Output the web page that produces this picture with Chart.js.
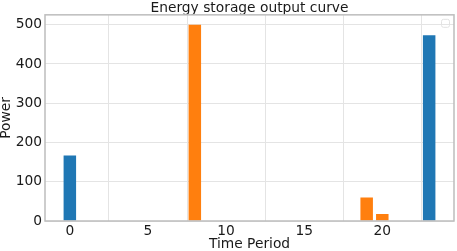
<!DOCTYPE html>
<html>
<head>
<meta charset="utf-8">
<script src="https://cdn.jsdelivr.net/npm/chart.js@4"></script>
<style>
  html, body { margin: 0; padding: 0; background: #fff; }
  #wrap { width: 457px; height: 251px; }
</style>
</head>
<body>
<div id="wrap"><canvas id="myChart" width="457" height="251"></canvas></div>
<script>
// time periods 0..23
const periods = [0,1,2,3,4,5,6,7,8,9,10,11,12,13,14,15,16,17,18,19,20,21,22,23];
// blue series
const blueValues = [167,0,0,0,0,0,0,0,0,0,0,0,0,0,0,0,0,0,0,0,0,0,0,473];
// orange series
const orangeValues = [0,0,0,0,0,0,0,0,500,0,0,0,0,0,0,0,0,0,0,60,18,0,0,0];
const xTicks = [0, 5, 10, 15, 20];
const yTicks = [0, 100, 200, 300, 400, 500];

const font = "'DejaVu Sans', sans-serif";
const fs = 13.8;

// frame around the plot + the empty legend box in the corner
const framePlugin = {
  id: 'frame',
  afterDraw(chart) {
    const { ctx, chartArea: a } = chart;
    ctx.save();
    ctx.strokeStyle = '#bdbdbd';
    ctx.lineWidth = 1.5;
    ctx.strokeRect(a.left, a.top, a.right - a.left, a.bottom - a.top);
    ctx.strokeStyle = '#e2e2e2';
    ctx.lineWidth = 1;
    ctx.beginPath();
    ctx.roundRect(a.right - 12.5, a.top + 4.5, 8, 8, 2);
    ctx.stroke();
    ctx.restore();
  }
};

function toPoints(vals) {
  return periods.map((p, i) => ({ x: p, y: vals[i] }));
}

const ctx = document.getElementById('myChart').getContext('2d');
new Chart(ctx, {
  type: 'bar',
  data: {
    datasets: [
      { label: 'blue', data: toPoints(blueValues), backgroundColor: '#1f77b4' },
      { label: 'orange', data: toPoints(orangeValues), backgroundColor: '#ff7f0e' }
    ]
  },
  options: {
    responsive: false,
    animation: false,
    layout: { padding: { left: 0, right: 3, top: 0, bottom: 0 } },
    datasets: {
      bar: { grouped: false, barPercentage: 0.8, categoryPercentage: 1.0, borderWidth: 0 }
    },
    plugins: {
      legend: { display: false },
      tooltip: { enabled: false },
      title: {
        display: true,
        fullSize: false,
        text: 'Energy storage output curve',
        color: '#1a1a1a',
        font: { family: font, size: fs, weight: 'normal', lineHeight: 0.93 },
        padding: { top: 2, bottom: 0 }
      }
    },
    scales: {
      x: {
        type: 'linear',
        min: -1.59,
        max: 24.59,
        offset: false,
        afterBuildTicks(scale) { scale.ticks = xTicks.map(v => ({ value: v })); },
        afterFit(scale) { scale.height = 30; },
        grid: { color: '#e4e4e4', drawTicks: false },
        border: { display: false },
        ticks: { color: '#1a1a1a', padding: 2, font: { family: font, size: fs } },
        title: {
          display: true, text: 'Time Period', color: '#1a1a1a',
          font: { family: font, size: fs, lineHeight: 1.0 }, padding: { top: 0, bottom: 0 }
        }
      },
      y: {
        min: 0,
        max: 525,
        afterBuildTicks(scale) { scale.ticks = yTicks.map(v => ({ value: v })); },
        afterFit(scale) { scale.width = 45; },
        grid: { color: '#e4e4e4', drawTicks: false },
        border: { display: false },
        ticks: { color: '#1a1a1a', padding: 3, font: { family: font, size: fs } },
        title: {
          display: true, text: 'Power', color: '#1a1a1a',
          font: { family: font, size: fs, lineHeight: 1 }, padding: { top: 0, bottom: 0 }
        }
      }
    }
  },
  plugins: [framePlugin]
});
</script>
</body>
</html>
